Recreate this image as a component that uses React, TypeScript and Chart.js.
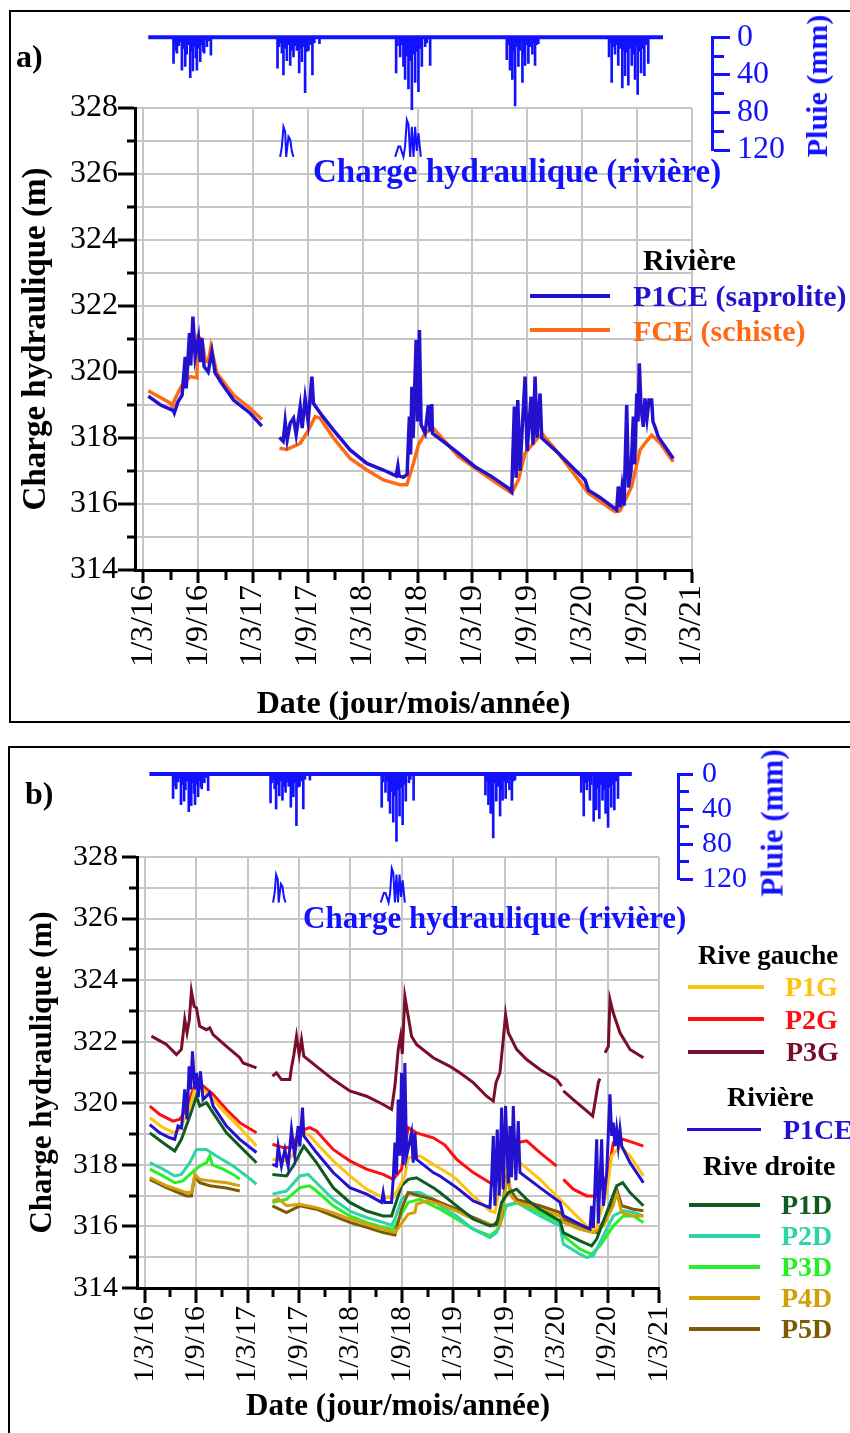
import React, { useEffect, useRef } from 'react';
import { Chart, registerables } from 'chart.js';

Chart.register(...registerables);

const SERIF = '"Liberation Serif", "Times New Roman", Times, serif';
Chart.defaults.font.family = SERIF;

type Pt = [number, number | null];

// x values: months since 1 March 2016
const dateLabels = ['1/3/16', '1/9/16', '1/3/17', '1/9/17', '1/3/18', '1/9/18', '1/3/19', '1/9/19', '1/3/20', '1/9/20', '1/3/21'];
const monthRange = [-0.9, 60];
const headRange = [314, 328];
const rainRange = [0, 120];

// ---------- rainfall (mm) ----------
const rainBaseline: Pt[] = [[0.55, 0], [56.83, 0]];
const rain2016: Pt[] = [[3.31, 28], [3.45, 8], [3.6, 14], [3.68, 17], [3.9, 9], [4.05, 5], [4.23, 35], [4.4, 12], [4.59, 31], [4.75, 18], [4.9, 8], [5.14, 43], [5.3, 15], [5.43, 36], [5.6, 10], [5.75, 22], [5.87, 35], [6.05, 12], [6.23, 26], [6.4, 8], [6.55, 15], [6.66, 17], [6.96, 10], [7.15, 4], [7.4, 19]];
const rain2017: Pt[] = [[14.68, 33], [14.85, 10], [15.0, 6], [15.16, 17], [15.33, 40], [15.5, 12], [15.7, 25], [15.85, 8], [16.07, 30], [16.25, 14], [16.43, 21], [16.6, 9], [16.8, 14], [17.05, 38], [17.2, 12], [17.34, 26], [17.5, 10], [17.7, 59], [17.9, 15], [18.07, 14], [18.3, 8], [18.5, 40], [18.7, 6], [19.27, 7]];
const rain2018: Pt[] = [[27.65, 38], [27.8, 9], [28.09, 21], [28.3, 8], [28.45, 31], [28.63, 45], [28.8, 20], [29.0, 55], [29.2, 25], [29.37, 77], [29.55, 18], [29.73, 48], [29.9, 15], [30.09, 58], [30.3, 12], [30.46, 31], [30.82, 10], [31.0, 6], [31.37, 30]];
const rain2019: Pt[] = [[39.75, 24], [39.9, 8], [40.1, 35], [40.25, 12], [40.36, 45], [40.5, 15], [40.66, 73], [40.85, 10], [41.02, 31], [41.2, 14], [41.46, 48], [41.6, 18], [41.75, 30], [41.9, 8], [42.11, 28], [42.3, 10], [42.55, 18], [42.7, 6], [42.84, 30], [43.0, 8], [43.2, 7]];
const rain2020: Pt[] = [[50.93, 21], [51.1, 6], [51.22, 48], [51.4, 10], [51.58, 18], [51.75, 8], [51.94, 30], [52.1, 12], [52.38, 54], [52.5, 14], [52.68, 41], [52.85, 16], [53.04, 51], [53.2, 12], [53.41, 30], [53.6, 18], [53.77, 45], [53.9, 10], [54.06, 61], [54.25, 15], [54.43, 38], [54.6, 12], [54.79, 41], [55.0, 8], [55.22, 28]];

// ---------- river stage (small inset, m) ----------
const riverStage: Pt[] = [[14.97, 326.52], [15.16, 326.83], [15.33, 327.43], [15.52, 327.28], [15.63, 326.52], [15.88, 327.13], [16.07, 327.05], [16.25, 326.68], [16.43, 326.52], [20, null], [27.54, 326.52], [27.9, 326.83], [28.09, 326.83], [28.45, 326.52], [28.63, 326.83], [28.82, 327.64], [29.0, 327.5], [29.19, 326.52], [29.37, 327.43], [29.55, 326.52], [29.73, 327.43], [29.91, 326.7], [30.09, 327.24], [30.35, 326.52]];

// ---------- panel a ----------
const p1ceA: Pt[] = [[0.55, 319.27], [1.9, 319.0], [3.3, 318.83], [3.4, 318.76], [3.8, 319.1], [4.25, 319.3], [4.59, 320.46], [4.7, 319.5], [5.06, 321.18], [5.19, 320.2], [5.43, 321.68], [5.68, 320.46], [6.04, 321.03], [6.23, 320.3], [6.42, 321.03], [6.66, 320.16], [7.1, 320.0], [7.51, 320.62], [7.86, 319.97], [8.6, 319.65], [9.87, 319.15], [11.69, 318.75], [12.97, 318.36],
  [14, null],
  [14.9, 318.02], [15.3, 317.9], [15.52, 318.5], [15.74, 317.95], [16.07, 318.45], [16.43, 318.6], [16.72, 318.1], [17.16, 318.95], [17.38, 318.3], [17.7, 319.2], [18.03, 318.5], [18.44, 319.86], [18.61, 319.05], [19.5, 318.7], [20.8, 318.24], [22.62, 317.64], [24.45, 317.23], [26.26, 317.03], [27.65, 316.85], [27.84, 317.15], [27.98, 316.85], [28.45, 316.81], [28.85, 316.9], [29.1, 318.65], [29.23, 317.5], [29.37, 319.55], [29.51, 318.0], [29.84, 320.97], [30.0, 318.5], [30.2, 321.27], [30.38, 318.4], [30.82, 318.15], [31.18, 319.0], [31.37, 318.2], [31.55, 319.03], [31.62, 318.14], [33, 317.85], [34.46, 317.54], [36.28, 317.13], [38.11, 316.83], [39.92, 316.48], [40.29, 316.37], [40.58, 318.95], [40.77, 316.8], [40.95, 319.15], [41.2, 317.0], [41.42, 318.2], [41.75, 319.86], [41.97, 317.6], [42.4, 319.25], [42.62, 317.8], [42.84, 319.86], [43.06, 318.0], [43.39, 319.35], [43.57, 318.0], [45.39, 317.54], [48.31, 316.73], [48.67, 316.42], [49.94, 316.2], [51.77, 315.82], [51.94, 316.53], [52.13, 315.9], [52.35, 316.5], [52.57, 315.95], [52.86, 319.0], [53.06, 316.5], [53.33, 317.0], [53.59, 318.65], [53.72, 317.2], [53.96, 319.35], [54.1, 318.5], [54.24, 320.26], [54.43, 318.9], [54.68, 318.34], [54.86, 319.2], [55.08, 318.6], [55.3, 319.15], [55.59, 319.15], [55.73, 318.5], [55.95, 318.34], [56.31, 318.04], [57.95, 317.38]];
const fceA: Pt[] = [[0.55, 319.43], [2.95, 319.06], [3.17, 318.95], [3.5, 319.2], [4.23, 319.6], [5.14, 319.86], [5.87, 319.82], [5.97, 321.07], [6.42, 320.99], [6.78, 320.36], [7.1, 320.3], [7.4, 320.77], [8.05, 319.97], [9.87, 319.3], [11.69, 318.9], [12.97, 318.56],
  [14, null],
  [14.9, 317.69], [15.7, 317.65], [17.16, 317.84], [18.07, 318.24], [18.8, 318.65], [19.34, 318.6], [20.8, 318.0], [22.62, 317.38], [24.45, 317.03], [26.26, 316.73], [28.09, 316.58], [28.82, 316.58], [29.54, 317.23], [30.09, 317.79], [30.82, 318.15], [31.73, 318.29], [34.46, 317.44], [38.11, 316.73], [40.29, 316.33], [41.02, 316.73], [41.75, 317.54], [43.57, 318.14], [45.39, 317.54], [48.67, 316.33], [51.58, 315.77], [52.13, 315.8], [53.41, 316.53], [54.32, 317.64], [54.86, 317.84], [55.59, 318.09], [56.5, 317.85], [57.95, 317.28]];

// ---------- panel b ----------
const p1gB: Pt[] = [[0.59, 319.53], [2.14, 319.21], [3.5, 319.04], [4.09, 319.15], [5.26, 319.86], [6.03, 320.67], [6.81, 320.45], [7.98, 320.12], [9.54, 319.64], [11.09, 319.21], [13.04, 318.61],
  [14, null],
  [14.9, 318.18], [16.54, 318.13], [17.32, 318.34], [18.29, 319.1], [19.26, 318.94], [21.99, 318.13], [23.93, 317.64], [25.88, 317.21], [27.82, 316.94], [28.99, 316.94], [29.77, 317.32], [30.35, 317.64], [30.74, 318.23], [32.1, 318.29], [33.66, 318.02], [35.6, 317.69], [36.39, 317.53], [38.33, 316.99], [40.28, 316.5], [40.86, 316.45], [41.64, 317.53], [42.22, 317.86], [43.78, 318.07], [46.11, 317.53], [48.06, 316.99], [50.0, 316.45], [52.14, 315.86], [52.73, 316.02], [53.9, 317.1], [54.48, 318.29], [55.45, 318.61], [56.62, 318.29], [58.18, 317.64]];
const p2gB: Pt[] = [[0.59, 319.91], [1.75, 319.64], [3.31, 319.42], [4.09, 319.48], [4.87, 319.8], [5.64, 320.45], [6.03, 320.72], [6.81, 320.56], [7.98, 320.29], [9.54, 319.8], [11.09, 319.37], [13.04, 319.04],
  [14, null],
  [14.9, 318.67], [16.15, 318.56], [17.12, 318.56], [18.1, 319.1], [19.26, 319.21], [20.04, 319.1], [21.99, 318.5], [23.93, 318.13], [25.88, 317.86], [27.82, 317.69], [28.99, 317.53], [29.96, 317.86], [30.74, 319.21], [31.71, 319.04], [33.66, 318.88], [35.0, 318.65], [36.39, 318.18], [38.33, 317.75], [40.28, 317.42], [40.86, 317.32], [41.25, 317.86], [42.22, 318.56], [43.39, 318.72], [44.56, 318.78], [46.11, 318.4], [48.06, 317.96],
  [48.5, null],
  [48.84, 317.53], [50.0, 317.21], [51.56, 316.99], [52.73, 316.99], [54.09, 317.75], [54.67, 318.72], [55.84, 318.83], [57.01, 318.72], [58.18, 318.61]];
const p3gB: Pt[] = [[0.78, 322.18], [2.53, 321.91], [3.7, 321.58], [4.28, 321.75], [4.67, 322.72], [4.94, 322.29], [5.2, 322.7], [5.45, 323.64], [5.76, 323.15], [6.03, 323.1], [6.42, 322.5], [7.2, 322.39], [7.59, 322.45], [7.98, 322.23], [9.54, 321.85], [11.09, 321.48], [11.48, 321.31], [13.04, 321.15],
  [14, null],
  [14.9, 320.88], [15.37, 320.99], [15.95, 320.77], [16.93, 320.77], [17.12, 321.15], [17.4, 321.58], [17.71, 322.18], [18.02, 321.58], [18.29, 322.07], [18.56, 321.53], [20.04, 321.2], [21.99, 320.77], [23.93, 320.4], [25.88, 320.23], [27.82, 319.96], [28.8, 319.8], [29.19, 320.56], [29.58, 321.75], [29.85, 322.18], [30.05, 321.6], [30.35, 323.47], [31.13, 322.18], [31.71, 321.91], [33.66, 321.48], [35.6, 321.2], [36.77, 320.99], [38.33, 320.67], [39.89, 320.23], [40.67, 320.07], [40.98, 320.67], [41.44, 320.99], [41.83, 322.07], [42.1, 322.88], [42.42, 322.29], [43.39, 321.75], [44.56, 321.42], [46.11, 321.1], [48.06, 320.77], [48.64, 320.56],
  [48.74, null],
  [48.84, 320.4], [50.0, 320.12], [51.56, 319.75], [52.26, 319.58], [52.53, 320.02], [52.92, 320.67], [53.1, 320.8],
  [53.4, null],
  [53.7, 321.64], [54.09, 321.85], [54.28, 323.37], [54.67, 322.93], [55.45, 322.29], [56.62, 321.75], [58.18, 321.48]];
const p1ceB: Pt[] = [[0.59, 319.31], [1.75, 319.04], [2.92, 318.88], [3.5, 318.83], [3.89, 319.26], [4.3, 319.2], [4.67, 320.45], [4.94, 319.48], [5.18, 321.2], [5.35, 320.45], [5.57, 321.69], [5.84, 320.45], [6.03, 320.99], [6.25, 320.2], [6.5, 321.04], [6.81, 320.12], [7.59, 320.34], [7.98, 319.91], [9.54, 319.26], [11.09, 318.83], [13.04, 318.4],
  [14, null],
  [14.9, 318.02], [15.37, 317.96], [15.57, 318.61], [15.95, 317.96], [16.35, 318.5], [16.74, 317.96], [17.12, 319.15], [17.5, 318.3], [17.9, 319.26], [18.1, 318.6], [18.41, 319.86], [18.56, 318.94], [20.04, 318.4], [21.99, 317.75], [23.93, 317.26], [25.88, 317.05], [27.63, 316.78], [27.82, 317.1], [28.0, 316.78], [28.8, 316.78], [28.99, 317.53], [29.19, 318.72], [29.38, 317.7], [29.58, 320.12], [29.77, 318.3], [29.96, 320.99], [30.16, 318.0], [30.35, 321.31], [30.55, 318.29], [31.13, 319.04], [31.32, 318.07], [31.52, 319.04], [31.71, 318.18], [33.66, 317.75], [34.44, 317.64], [36.39, 317.26], [38.33, 316.83], [40.28, 316.61], [40.47, 317.53], [40.67, 318.94], [40.86, 316.67], [41.13, 319.15], [41.36, 317.0], [41.64, 319.86], [41.83, 317.2], [42.1, 319.91], [42.42, 317.4], [42.61, 319.26], [42.8, 317.6], [43.0, 319.91], [43.3, 317.5], [43.58, 319.42], [43.78, 317.75], [46.11, 317.26], [48.45, 316.78], [48.84, 316.35], [50.78, 316.07], [51.95, 315.91], [52.14, 316.67], [52.34, 315.95], [52.73, 318.83], [52.92, 316.1], [53.31, 318.83], [53.51, 316.67], [53.9, 317.75], [54.09, 319.04], [54.28, 320.29], [54.48, 318.94], [54.67, 319.37], [54.86, 318.61], [55.06, 319.15], [55.25, 318.61], [55.45, 319.15], [55.65, 318.61], [56.62, 318.07], [58.18, 317.42]];
const p1dB: Pt[] = [[0.59, 319.04], [2.14, 318.72], [3.5, 318.45], [4.28, 318.83], [5.26, 319.58], [6.03, 320.23], [6.42, 319.91], [7.2, 320.02], [7.98, 319.69], [9.54, 319.04], [11.09, 318.61], [13.04, 318.07],
  [14, null],
  [14.9, 317.69], [16.54, 317.64], [17.32, 317.96], [18.56, 318.61], [20.04, 318.07], [21.99, 317.26], [23.93, 316.78], [25.88, 316.5], [27.82, 316.34], [28.8, 316.34], [29.19, 316.67], [29.96, 317.32], [30.74, 317.53], [31.71, 317.58], [33.66, 317.26], [34.44, 317.1], [36.39, 316.67], [38.33, 316.24], [40.28, 316.02], [41.05, 316.07], [41.64, 316.78], [42.42, 317.1], [43.39, 317.21], [44.56, 316.88], [46.11, 316.56], [48.45, 316.18], [48.84, 315.8], [50.78, 315.53], [52.14, 315.37], [52.73, 315.59], [53.9, 316.45], [55.06, 317.32], [55.76, 317.42], [56.62, 317.1], [58.18, 316.67]];
const p2dB: Pt[] = [[0.59, 318.07], [2.14, 317.86], [3.5, 317.64], [4.28, 317.69], [5.26, 318.07], [6.03, 318.5], [7.2, 318.5], [8.37, 318.29], [10.31, 317.96], [11.87, 317.64], [13.04, 317.37],
  [14, null],
  [14.9, 317.05], [16.54, 317.15], [18.1, 317.64], [19.07, 317.69], [20.04, 317.42], [21.99, 316.88], [23.93, 316.5], [25.88, 316.29], [27.82, 316.13], [28.8, 316.04], [29.19, 316.24], [29.96, 316.88], [30.94, 317.1], [32.1, 317.1], [33.66, 316.88], [34.44, 316.67], [36.39, 316.34], [38.33, 315.91], [40.28, 315.64], [41.05, 315.8], [42.03, 316.67], [43.39, 316.78], [46.11, 316.34], [48.45, 316.02], [48.84, 315.43], [50.78, 315.1], [51.56, 314.99], [52.34, 315.05], [53.51, 315.7], [54.67, 316.34], [55.84, 316.51], [57.01, 316.45], [58.18, 316.34]];
const p3dB: Pt[] = [[0.59, 317.86], [2.14, 317.64], [3.5, 317.42], [4.48, 317.48], [5.26, 317.69], [6.42, 317.96], [7.2, 318.07], [7.59, 318.29], [7.9, 318.0], [9.15, 317.86], [10.31, 317.69], [11.09, 317.53],
  [12, null],
  [14.9, 316.78], [16.54, 316.88], [18.1, 317.26], [19.26, 317.32], [20.04, 317.15], [21.99, 316.67], [23.93, 316.34], [25.88, 316.13], [27.82, 315.97], [28.99, 315.91], [29.96, 316.4], [30.74, 316.78], [32.1, 316.88], [33.66, 316.67], [34.44, 316.56], [36.39, 316.24], [38.33, 315.91], [40.28, 315.7], [41.25, 315.91], [42.22, 316.67], [43.78, 316.78], [46.11, 316.45], [48.45, 316.13], [48.84, 315.7], [50.78, 315.26], [52.14, 315.1], [53.12, 315.37], [54.67, 316.02], [55.84, 316.34], [57.01, 316.34], [58.18, 316.13]];
const p4dB: Pt[] = [[0.59, 317.59], [2.53, 317.32], [4.87, 317.1], [5.45, 317.1], [5.84, 317.69], [6.42, 317.53], [7.59, 317.48], [9.54, 317.42], [11.09, 317.32],
  [12, null],
  [14.9, 316.83], [15.6, 316.9], [16.54, 316.67], [18.1, 316.72], [20.04, 316.61], [21.99, 316.45], [23.93, 316.24], [25.88, 316.07], [27.82, 315.91], [29.19, 315.8], [29.77, 316.02], [30.74, 316.4], [31.52, 316.45], [31.71, 316.72], [32.88, 316.83], [34.44, 316.72], [36.39, 316.5], [38.33, 316.24], [40.67, 316.02], [41.44, 316.02], [42.03, 317.1], [42.42, 317.86], [42.7, 317.0], [43.39, 316.78], [46.11, 316.56], [48.45, 316.34], [48.84, 316.13], [50.78, 315.91], [52.34, 315.8], [53.51, 316.02], [54.67, 316.67], [55.06, 317.1], [55.65, 316.45], [57.01, 316.34], [58.18, 316.34]];
const p5dB: Pt[] = [[0.59, 317.53], [2.53, 317.26], [4.87, 316.99], [5.45, 316.99], [5.84, 317.64], [6.42, 317.42], [7.59, 317.32], [9.54, 317.25], [11.09, 317.15],
  [12, null],
  [14.9, 316.67], [16.54, 316.45], [18.1, 316.67], [20.04, 316.56], [21.99, 316.34], [23.93, 316.13], [25.88, 315.97], [27.82, 315.8], [29.19, 315.72], [29.96, 316.56], [30.74, 317.1], [32.1, 316.99], [33.66, 316.88], [34.44, 316.78], [36.39, 316.56], [38.33, 316.29], [40.67, 316.02], [41.64, 316.34], [42.22, 317.75], [42.61, 317.21], [43.39, 316.88], [46.11, 316.67], [48.45, 316.45], [48.84, 316.24], [50.78, 316.02], [52.73, 315.8], [53.9, 316.34], [55.06, 317.21], [55.65, 316.67], [57.01, 316.56], [58.18, 316.51]];

const C = {
  rain: '#1212ff', p1ce: '#2410cf', fce: '#ff6a14', p1g: '#ffc20e', p2g: '#ff1010', p3g: '#7a0d2a',
  p1d: '#0f5c23', p2d: '#2fd3a8', p3d: '#28f028', p4d: '#d4a00a', p5d: '#7d5a05',
};
const GRID = '#c6c6c6';

const xy = (arr: Pt[]) => arr.map(([x, y]) => ({ x, y }));

function lineDs(label: string, data: Pt[], color: string, width: number): any {
  return { type: 'line', label, data: xy(data), borderColor: color, backgroundColor: color, borderWidth: width, pointRadius: 0, tension: 0, spanGaps: false, fill: false };
}

interface MainOpts {
  datasets: any[]; padTop: number; padRight: number; yWidth: number; xHeight: number;
  tickSize: number; yTickLen: number; yTickPad: number; yMinorGap: number; xTickLen: number; xMinorLen: number; xTickPad: number;
  yTitleSize: number; yTitlePad: number; xTitleSize: number; xTitlePad: number;
}

function mainConfig(o: MainOpts): any {
  return {
    type: 'line',
    data: { datasets: o.datasets },
    options: {
      animation: false, responsive: false, events: [],
      layout: { autoPadding: false, padding: { top: o.padTop, right: o.padRight, left: 0, bottom: 0 } },
      plugins: { legend: { display: false }, tooltip: { enabled: false } },
      scales: {
        x: {
          type: 'linear', min: monthRange[0], max: monthRange[1], offset: false,
          afterFit: (s: any) => { s.height = o.xHeight; },
          ticks: {
            stepSize: 3, includeBounds: false, autoSkip: false, minRotation: 90, maxRotation: 90, padding: o.xTickPad,
            color: '#000', font: { size: o.tickSize, family: SERIF },
            callback: (v: any) => (Number(v) % 6 === 0 ? dateLabels[Math.round(Number(v) / 6)] : ''),
          },
          grid: {
            color: (c: any) => (c.tick && c.tick.value % 6 === 0 ? GRID : 'rgba(0,0,0,0)'),
            lineWidth: 2, tickColor: '#000', tickWidth: 3, tickLength: o.xTickLen,
            tickBorderDash: (c: any) => (c.tick && c.tick.value % 6 !== 0 ? [o.xMinorLen, 100] : []),
          },
          border: { display: true, color: '#000', width: 3 },
          title: { display: true, text: 'Date (jour/mois/année)', color: '#000', font: { size: o.xTitleSize, weight: 'bold', family: SERIF, lineHeight: 1 }, padding: { top: 0, bottom: o.xTitlePad } },
        },
        y: {
          type: 'linear', min: headRange[0], max: headRange[1],
          afterFit: (s: any) => { s.width = o.yWidth; },
          ticks: {
            stepSize: 1, autoSkip: false, padding: o.yTickPad, color: '#000', font: { size: o.tickSize, family: SERIF },
            callback: (v: any) => (Number(v) % 2 === 0 ? String(v) : ''),
          },
          grid: {
            color: GRID, lineWidth: 2, tickColor: '#000', tickWidth: 3, tickLength: o.yTickLen,
            tickBorderDash: (c: any) => (c.tick && c.tick.value % 2 !== 0 ? [0, o.yMinorGap, 100] : []),
          },
          border: { display: true, color: '#000', width: 3 },
          title: { display: true, text: 'Charge hydraulique (m)', color: '#000', font: { size: o.yTitleSize, weight: 'bold', family: SERIF, lineHeight: 1 }, padding: { top: o.yTitlePad, bottom: 0 } },
        },
      },
    },
  };
}

interface RainOpts { padTop: number; padBottom: number; padLeft: number; padRight: number; spacer: number; axisWidth: number; tickLen: number; minorLen: number; tickPad: number; tickSize: number; }

function rainConfig(o: RainOpts): any {
  const bars = [...rain2016, ...rain2017, ...rain2018, ...rain2019, ...rain2020];
  return {
    type: 'bar',
    data: {
      datasets: [
        { type: 'line', label: 'base', data: xy(rainBaseline), borderColor: C.rain, borderWidth: 4, pointRadius: 0, clip: false, yAxisID: 'rain' },
        { type: 'bar', label: 'Pluie', data: xy(bars), backgroundColor: C.rain, borderWidth: 0, barThickness: 2, yAxisID: 'rain' },
      ],
    },
    options: {
      animation: false, responsive: false, events: [],
      layout: { autoPadding: false, padding: { top: o.padTop, bottom: o.padBottom, left: o.padLeft, right: o.padRight } },
      plugins: { legend: { display: false }, tooltip: { enabled: false } },
      scales: {
        x: { type: 'linear', min: monthRange[0], max: monthRange[1], offset: false, display: false, grid: { offset: false } },
        spacer: {
          type: 'linear', axis: 'y', position: 'right', weight: 0,
          grid: { display: false, drawTicks: false }, border: { display: false }, ticks: { display: false },
          afterFit: (s: any) => { s.width = o.spacer; },
        },
        rain: {
          type: 'linear', axis: 'y', position: 'right', weight: 1, reverse: true, min: rainRange[0], max: rainRange[1],
          afterFit: (s: any) => { s.width = o.axisWidth; },
          ticks: {
            stepSize: 20, autoSkip: false, padding: o.tickPad, color: C.rain, font: { size: o.tickSize, family: SERIF },
            callback: (v: any) => (Number(v) % 40 === 0 ? String(v) : ''),
          },
          grid: {
            drawOnChartArea: false, tickColor: C.rain, tickWidth: 3, tickLength: o.tickLen,
            tickBorderDash: (c: any) => (c.tick && c.tick.value % 40 !== 0 ? [o.minorLen, 100] : []),
          },
          border: { display: true, color: C.rain, width: 3 },
        },
      },
    },
  };
}

function ChartCanvas({ left, top, width, height, build }: { left: number; top: number; width: number; height: number; build: () => any }) {
  const ref = useRef<HTMLCanvasElement>(null);
  useEffect(() => {
    const chart = new Chart(ref.current as HTMLCanvasElement, build());
    return () => chart.destroy();
  }, []);
  return <canvas ref={ref} width={width} height={height} style={{ position: 'absolute', left, top, width, height, display: 'block' }} />;
}

function Txt({ x, cy, size, color, text, bold = true }: { x: number; cy: number; size: number; color: string; text: string; bold?: boolean }) {
  return (
    <div style={{ position: 'absolute', left: x, top: cy - size / 2, fontSize: size, lineHeight: `${size}px`, fontWeight: bold ? 700 : 400, color, whiteSpace: 'nowrap', fontFamily: SERIF }}>
      {text}
    </div>
  );
}

function VTxt({ cx, cy, size, color, text }: { cx: number; cy: number; size: number; color: string; text: string }) {
  return (
    <div style={{ position: 'absolute', left: cx, top: cy, transform: 'translate(-50%,-50%) rotate(-90deg)', fontSize: size, lineHeight: `${size}px`, fontWeight: 700, color, whiteSpace: 'nowrap', fontFamily: SERIF }}>
      {text}
    </div>
  );
}

function LLine({ x, cy, w, color, t = 4 }: { x: number; cy: number; w: number; color: string; t?: number }) {
  return <div style={{ position: 'absolute', left: x, top: cy - t / 2, width: w, height: t, background: color }} />;
}

export default function App() {
  const buildMainA = () => mainConfig({
    datasets: [
      lineDs('P1CE (saprolite)', p1ceA, C.p1ce, 3.5),
      lineDs('FCE (schiste)', fceA, C.fce, 3.5),
      lineDs('Charge hydraulique (rivière)', riverStage, C.rain, 2),
    ],
    padTop: 97, padRight: 158, yWidth: 125, xHeight: 152,
    tickSize: 32, yTickLen: 17, yTickPad: 0, yMinorGap: 9, xTickLen: 13, xMinorLen: 8, xTickPad: 2,
    yTitleSize: 33, yTitlePad: 10, xTitleSize: 32, xTitlePad: 1,
  });
  const buildMainB = () => mainConfig({
    datasets: [
      lineDs('P1CE', p1ceB, C.p1ce, 3),
      lineDs('P3G', p3gB, C.p3g, 3),
      lineDs('P1G', p1gB, C.p1g, 3),
      lineDs('P2G', p2gB, C.p2g, 3),
      lineDs('P1D', p1dB, C.p1d, 3),
      lineDs('P4D', p4dB, C.p4d, 3),
      lineDs('P5D', p5dB, C.p5d, 3),
      lineDs('P2D', p2dB, C.p2d, 3),
      lineDs('P3D', p3dB, C.p3d, 3),
      lineDs('Charge hydraulique (rivière)', riverStage, C.rain, 2),
    ],
    padTop: 111, padRight: 191, yWidth: 127, xHeight: 145,
    tickSize: 30, yTickLen: 15, yTickPad: 4, yMinorGap: 7, xTickLen: 15, xMinorLen: 7, xTickPad: 3,
    yTitleSize: 31, yTitlePad: 17, xTitleSize: 31, xTitlePad: 11,
  });
  const buildRainA = () => rainConfig({ padTop: 22, padBottom: 31, padLeft: 125, padRight: 48, spacer: 20, axisWidth: 90, tickLen: 18, minorLen: 10, tickPad: 7, tickSize: 32 });
  const buildRainB = () => rainConfig({ padTop: 28, padBottom: 23, padLeft: 127, padRight: 82, spacer: 19, axisWidth: 90, tickLen: 15, minorLen: 9, tickPad: 9, tickSize: 30 });

  return (
    <div style={{ position: 'absolute', left: 0, top: 0, width: 850, height: 1433, overflow: 'hidden', background: '#fff', fontFamily: SERIF }}>
      <div style={{ position: 'absolute', left: 9, top: 10, width: 860, height: 713, border: '2px solid #000', boxSizing: 'border-box' }} />
      <div style={{ position: 'absolute', left: 8, top: 746, width: 860, height: 700, border: '2px solid #000', boxSizing: 'border-box' }} />

      <ChartCanvas left={10} top={11} width={840} height={711} build={buildMainA} />
      <ChartCanvas left={10} top={11} width={840} height={170} build={buildRainA} />
      <ChartCanvas left={10} top={746} width={840} height={687} build={buildMainB} />
      <ChartCanvas left={10} top={746} width={840} height={160} build={buildRainB} />

      {/* panel a texts */}
      <Txt x={16} cy={56} size={32} color="#000" text="a)" />
      <VTxt cx={817} cy={86} size={30} color={C.rain} text="Pluie (mm)" />
      <Txt x={313} cy={171} size={33} color={C.rain} text="Charge hydraulique (rivière)" />
      <Txt x={643} cy={260} size={30} color="#000" text="Rivière" />
      <LLine x={530} cy={296} w={80} color={C.p1ce} />
      <Txt x={633} cy={296} size={30} color={C.p1ce} text="P1CE (saprolite)" />
      <LLine x={530} cy={330} w={80} color={C.fce} />
      <Txt x={633} cy={331} size={30} color={C.fce} text="FCE (schiste)" />

      {/* panel b texts */}
      <Txt x={25} cy={793} size={32} color="#000" text="b)" />
      <VTxt cx={772} cy={823} size={31} color={C.rain} text="Pluie (mm)" />
      <Txt x={303} cy={917} size={31} color={C.rain} text="Charge hydraulique (rivière)" />
      <Txt x={698} cy={955} size={27} color="#000" text="Rive gauche" />
      <LLine x={688} cy={987} w={76} color={C.p1g} />
      <Txt x={785} cy={987} size={28} color={C.p1g} text="P1G" />
      <LLine x={688} cy={1019} w={76} color={C.p2g} />
      <Txt x={785} cy={1020} size={28} color={C.p2g} text="P2G" />
      <LLine x={688} cy={1052} w={76} color={C.p3g} />
      <Txt x={786} cy={1052} size={28} color={C.p3g} text="P3G" />
      <Txt x={727} cy={1097} size={28} color="#000" text="Rivière" />
      <LLine x={687} cy={1129} w={74} color={C.p1ce} t={3} />
      <Txt x={783} cy={1130} size={28} color={C.p1ce} text="P1CE" />
      <Txt x={703} cy={1166} size={28} color="#000" text="Rive droite" />
      <LLine x={689} cy={1205} w={71} color={C.p1d} />
      <Txt x={781} cy={1205} size={28} color={C.p1d} text="P1D" />
      <LLine x={689} cy={1236} w={71} color={C.p2d} />
      <Txt x={781} cy={1236} size={28} color={C.p2d} text="P2D" />
      <LLine x={689} cy={1267} w={71} color={C.p3d} />
      <Txt x={781} cy={1267} size={28} color={C.p3d} text="P3D" />
      <LLine x={689} cy={1298} w={71} color={C.p4d} />
      <Txt x={781} cy={1298} size={28} color={C.p4d} text="P4D" />
      <LLine x={689} cy={1329} w={71} color={C.p5d} />
      <Txt x={781} cy={1329} size={28} color={C.p5d} text="P5D" />
    </div>
  );
}
